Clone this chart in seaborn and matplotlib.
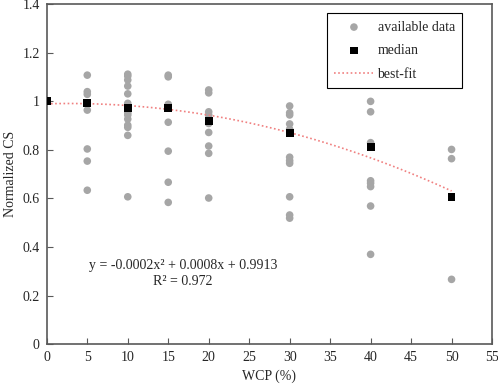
import numpy as np
import pandas as pd
import matplotlib
matplotlib.use('Agg')
import matplotlib.pyplot as plt
import seaborn as sns

# Raw data, one list per WCP level
wcp_levels = [0, 5, 10, 15, 20, 30, 40, 50]
cs_0 = [1.0]
cs_5 = [1.108, 1.040, 1.029, 0.994, 0.964, 0.804, 0.754, 0.634]
cs_10 = [1.112, 1.104, 1.088, 1.063, 1.031, 0.992, 0.981, 0.953, 0.944,
         0.927, 0.902, 0.893, 0.860, 0.607]
cs_15 = [1.108, 1.101, 0.988, 0.978, 0.914, 0.795, 0.667, 0.584]
cs_20 = [1.047, 1.035, 0.957, 0.944, 0.909, 0.872, 0.816, 0.786, 0.602]
cs_30 = [0.981, 0.953, 0.944, 0.907, 0.885, 0.770, 0.756, 0.745, 0.607,
         0.532, 0.519]
cs_40 = [1.0, 0.957, 0.830, 0.673, 0.663, 0.649, 0.569, 0.370]
cs_50 = [0.802, 0.764, 0.267]

# Median of each WCP level
median_cs = [1.0, 0.994, 0.971, 0.971, 0.919, 0.868, 0.813, 0.607]

all_cs = [cs_0, cs_5, cs_10, cs_15, cs_20, cs_30, cs_40, cs_50]
df = pd.DataFrame({
    'WCP': [w for w, vals in zip(wcp_levels, all_cs) for _ in vals],
    'CS': [v for vals in all_cs for v in vals],
})
df_med = pd.DataFrame({'WCP': wcp_levels, 'CS': median_cs})

sns.set_style('white')
plt.rcParams['font.family'] = ['Liberation Serif', 'DejaVu Serif']

fig = plt.figure(figsize=(4.98, 3.85), dpi=100)
ax = fig.add_axes([0.094, 0.106, 0.894, 0.883])

sns.scatterplot(data=df, x='WCP', y='CS', ax=ax, color='#a6a6a6', s=30,
                edgecolor='none', label='available data', zorder=2)
sns.scatterplot(data=df_med, x='WCP', y='CS', ax=ax, color='black', marker='s',
                s=32, edgecolor='none', label='median', zorder=4)
sns.regplot(data=df_med, x='WCP', y='CS', ax=ax, order=2, ci=None, scatter=False,
            line_kws={'color': '#f08080', 'linestyle': (0, (1, 1.5)), 'linewidth': 1.2,
                      'zorder': 3},
            label='best-fit')

ax.set_xlim(0, 55)
ax.set_ylim(0, 1.4)
ax.set_xticks(np.arange(0, 56, 5))
ax.set_yticks([0, 0.2, 0.4, 0.6, 0.8, 1.0, 1.2, 1.4])
ax.set_yticklabels(['0', '0.2', '0.4', '0.6', '0.8', '1', '1.2', '1.4'])
ax.tick_params(direction='in', length=4, width=0.8, color='#595959',
               labelsize=10, pad=5, bottom=True, left=True)
for sp in ax.spines.values():
    sp.set_color('#595959')
    sp.set_linewidth(1.2)
ax.set_xlabel('WCP (%)', fontsize=10)
ax.set_ylabel('Normalized CS', fontsize=10)

ax.text(16.8, 0.326, 'y = -0.0002x² + 0.0008x + 0.9913', ha='center', va='center',
        fontsize=10)
ax.text(16.8, 0.26, 'R² = 0.972', ha='center', va='center', fontsize=10)

leg = ax.legend(loc='upper left', bbox_to_anchor=(0.629, 0.974), borderaxespad=0,
                fancybox=False, edgecolor='black', framealpha=1, fontsize=10,
                handlelength=2.8, handletextpad=0.3, borderpad=0.55,
                labelspacing=0.75)
leg.get_frame().set_linewidth(0.8)

fig.savefig('out.png', dpi=100)
